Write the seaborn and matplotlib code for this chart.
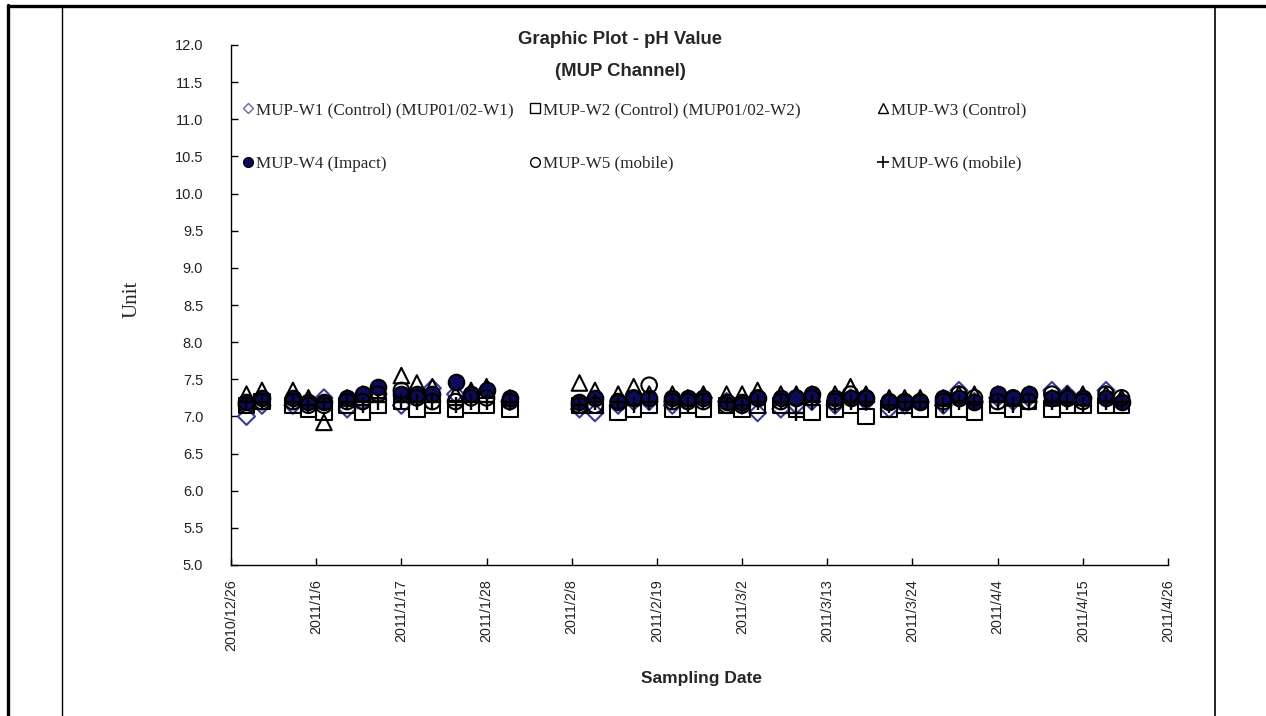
import matplotlib
matplotlib.use("Agg")
import matplotlib.pyplot as plt
import matplotlib.dates as mdates
from matplotlib.lines import Line2D
import pandas as pd
import seaborn as sns

# sampling dates (Mon/Wed/Fri schedule)
dates = pd.to_datetime([
    "2010-12-28", "2010-12-30", "2011-01-03", "2011-01-05", "2011-01-07",
    "2011-01-10", "2011-01-12", "2011-01-14", "2011-01-17", "2011-01-19",
    "2011-01-21", "2011-01-24", "2011-01-26", "2011-01-28", "2011-01-31",
    "2011-02-09", "2011-02-11", "2011-02-14", "2011-02-16", "2011-02-18",
    "2011-02-21", "2011-02-23", "2011-02-25", "2011-02-28", "2011-03-02",
    "2011-03-04", "2011-03-07", "2011-03-09", "2011-03-11", "2011-03-14",
    "2011-03-16", "2011-03-18", "2011-03-21", "2011-03-23", "2011-03-25",
    "2011-03-28", "2011-03-30", "2011-04-01", "2011-04-04", "2011-04-06",
    "2011-04-08", "2011-04-11", "2011-04-13", "2011-04-15", "2011-04-18",
    "2011-04-20",
])

w1 = [7.00, 7.15, 7.15, 7.20, 7.25, 7.10, 7.20, 7.30, 7.15, 7.25,
      7.38, 7.30, 7.30, 7.35, 7.20, 7.10, 7.05, 7.15, 7.20, 7.20,
      7.15, 7.20, 7.25, 7.20, 7.15, 7.05, 7.10, 7.15, 7.20, 7.15,
      7.25, 7.20, 7.10, 7.15, 7.20, 7.15, 7.35, 7.20, 7.25, 7.20,
      7.25, 7.35, 7.30, 7.25, 7.35, 7.20]
w2 = [7.15, 7.20, 7.15, 7.10, 7.05, 7.15, 7.05, 7.15, 7.20, 7.10,
      7.15, 7.10, 7.15, 7.15, 7.10, 7.15, 7.15, 7.05, 7.10, 7.15,
      7.10, 7.15, 7.10, 7.15, 7.10, 7.15, 7.15, 7.10, 7.05, 7.10,
      7.15, 7.00, 7.10, 7.15, 7.10, 7.10, 7.10, 7.05, 7.15, 7.10,
      7.20, 7.10, 7.15, 7.15, 7.15, 7.15]
w3 = [7.30, 7.35, 7.35, 7.25, 6.92, 7.25, 7.30, 7.35, 7.55, 7.45,
      7.40, 7.30, 7.35, 7.40, 7.25, 7.45, 7.35, 7.30, 7.40, 7.30,
      7.30, 7.25, 7.30, 7.30, 7.30, 7.35, 7.30, 7.30, 7.30, 7.30,
      7.40, 7.30, 7.25, 7.25, 7.25, 7.25, 7.30, 7.30, 7.30, 7.25,
      7.30, 7.25, 7.30, 7.30, 7.30, 7.25]
w4 = [7.20, 7.25, 7.25, 7.20, 7.20, 7.25, 7.30, 7.40, 7.30, 7.30,
      7.30, 7.47, 7.30, 7.35, 7.25, 7.20, 7.25, 7.20, 7.25, 7.25,
      7.25, 7.25, 7.25, 7.20, 7.20, 7.25, 7.25, 7.25, 7.30, 7.25,
      7.25, 7.25, 7.20, 7.20, 7.20, 7.25, 7.25, 7.20, 7.30, 7.25,
      7.30, 7.25, 7.25, 7.25, 7.25, 7.20]
w5 = [7.15, 7.20, 7.20, 7.15, 7.15, 7.20, 7.20, 7.30, 7.35, 7.25,
      7.20, 7.20, 7.25, 7.25, 7.20, 7.15, 7.15, 7.20, 7.25, 7.42,
      7.20, 7.20, 7.20, 7.15, 7.15, 7.25, 7.20, 7.25, 7.25, 7.20,
      7.30, 7.25, 7.20, 7.20, 7.20, 7.20, 7.30, 7.25, 7.20, 7.25,
      7.20, 7.30, 7.25, 7.20, 7.30, 7.25]
w6 = [7.20, 7.20, 7.20, 7.15, 7.20, 7.20, 7.15, 7.20, 7.20, 7.20,
      7.20, 7.15, 7.20, 7.20, 7.20, 7.15, 7.20, 7.20, 7.15, 7.20,
      7.20, 7.15, 7.20, 7.20, 7.15, 7.20, 7.20, 7.05, 7.20, 7.15,
      7.20, 7.20, 7.15, 7.20, 7.20, 7.15, 7.20, 7.20, 7.20, 7.15,
      7.20, 7.20, 7.20, 7.15, 7.20, 7.20]

labels = ["MUP-W1 (Control) (MUP01/02-W1)", "MUP-W2 (Control) (MUP01/02-W2)",
          "MUP-W3 (Control)", "MUP-W4 (Impact)", "MUP-W5 (mobile)",
          "MUP-W6 (mobile)"]
tick_dates = pd.date_range("2010-12-26", "2011-04-26", freq="11D")

# (marker, face, edge, size)
styles = [
    ("D", "none", "#3a3a9a", 75),
    ("s", "none", "black", 125),
    ("^", "none", "black", 125),
    ("o", "#0b0b5c", "black", 125),
    ("o", "none", "black", 125),
    ("P", "black", "black", 130),
]

sns.set_style("white")
fig = plt.figure(figsize=(12.66, 7.16), dpi=100)
ax = fig.add_axes([231 / 1266, 1 - 565 / 716, 937 / 1266, 520 / 716])

handles = []
for vals, lab, (m, fc, ec, s) in zip([w1, w2, w3, w4, w5, w6], labels, styles):
    if m == "P":
        sns.scatterplot(x=dates, y=vals, marker="+", s=s, color="black",
                        linewidth=1.7, ax=ax)
        handles.append(Line2D([], [], marker="+", ls="", color="black",
                              markersize=9, markeredgewidth=1.2))
    else:
        sns.scatterplot(x=dates, y=vals, marker=m, s=s, facecolor=fc,
                        edgecolor=ec, linewidth=1.5, ax=ax)
        handles.append(Line2D([], [], marker=m, ls="", markerfacecolor=fc,
                              markeredgecolor=ec if m != "D" else "#6a6aa8",
                              markersize=7 if m != "D" else 5.5,
                              markeredgewidth=1.0))

ax.set_ylim(5.0, 12.0)
ax.set_yticks([5.0 + 0.5 * i for i in range(15)])
ax.yaxis.set_major_formatter(plt.FuncFormatter(lambda v, p: f"{v:.1f}"))
ax.set_xlim(tick_dates[0], tick_dates[-1])
ax.set_xticks(tick_dates)
ax.xaxis.set_major_formatter(plt.FuncFormatter(
    lambda v, p: (lambda d: f"{d.year}/{d.month}/{d.day}")(mdates.num2date(v))))

for sp in ["top", "right"]:
    ax.spines[sp].set_visible(False)
for sp in ["left", "bottom"]:
    ax.spines[sp].set_color("black")
    ax.spines[sp].set_linewidth(1.0)
ax.tick_params(axis="y", direction="in", length=5, width=1, color="black",
               labelsize=10.5, labelcolor="#222222", pad=20, left=True)
ax.tick_params(axis="x", direction="in", length=5, width=1, color="black",
               labelsize=10.3, labelcolor="#222222", rotation=90, pad=10,
               bottom=True)
for t in ax.get_xticklabels() + ax.get_yticklabels():
    t.set_fontfamily("Liberation Sans")

ax.set_xlabel("")
ax.set_ylabel("")
fig.text(702 / 1266, 1 - 678 / 716, "Sampling Date", ha="center", va="center",
         fontsize=12.5, fontweight="bold", family="Liberation Sans")
fig.text(132 / 1266, 1 - 299 / 716, "Unit", ha="center", va="center",
         rotation=90, fontsize=15, family="Liberation Serif")
fig.text(620 / 1266, 1 - 39 / 716, "Graphic Plot - pH Value",
         ha="center", va="center", fontsize=13.3, fontweight="bold",
         family="Liberation Sans")
fig.text(620 / 1266, 1 - 71 / 716, "(MUP Channel)",
         ha="center", va="center", fontsize=13.3, fontweight="bold",
         family="Liberation Sans")

# legend: three columns placed like the original
col_x = [242, 529, 877]
for c, x0 in enumerate(col_x):
    leg = ax.legend([handles[c], handles[c + 3]], [labels[c], labels[c + 3]],
                    frameon=False, loc="upper left",
                    bbox_to_anchor=(x0 / 1266, 1 - 102 / 716),
                    bbox_transform=fig.transFigure,
                    prop={"family": "Liberation Serif", "size": 12.3},
                    handlelength=0.7, handletextpad=0.1,
                    labelspacing=2.2, borderaxespad=0, borderpad=0)
    if c < 2:
        ax.add_artist(leg)

# table cell borders around the chart
fig.add_artist(Line2D([8 / 1266, 1], [1 - 6 / 716, 1 - 6 / 716], color="black",
                      lw=2.4, transform=fig.transFigure))
fig.add_artist(Line2D([8 / 1266, 8 / 1266], [0, 1 - 5 / 716], color="black",
                      lw=2.4, transform=fig.transFigure))
fig.add_artist(Line2D([62 / 1266, 62 / 1266], [0, 1 - 6 / 716], color="black",
                      lw=1.0, transform=fig.transFigure))
fig.add_artist(Line2D([1215 / 1266, 1215 / 1266], [0, 1 - 6 / 716],
                      color="black", lw=1.2, transform=fig.transFigure))

fig.savefig("out.png", dpi=100)
